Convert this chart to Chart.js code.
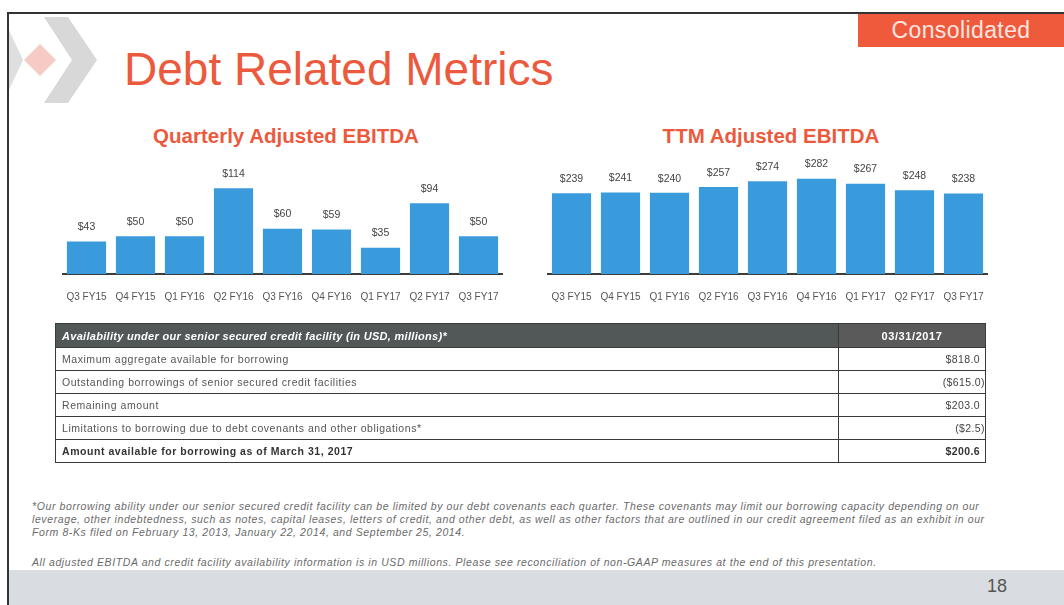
<!DOCTYPE html>
<html>
<head>
<meta charset="utf-8">
<script src="https://cdn.jsdelivr.net/npm/chart.js@4.4.0/dist/chart.umd.min.js"></script>
<style>
  body { margin: 0; width: 1064px; height: 605px; overflow: hidden; background: #fff;
         font-family: "Liberation Sans", Arial, sans-serif; position: relative; }
  .abs { position: absolute; }
  #topline { left: 8px; top: 12px; width: 1056px; height: 2px; background: #333; }
  #leftline { left: 7px; top: 12px; width: 2px; height: 593px; background: #333; }
  #footer { left: 9px; top: 570px; width: 1055px; height: 35px; background: #d9dde2; }
  #pageno { left: 980px; top: 576px; width: 34px; text-align: center; font-size: 18px; color: #555; }
  #badge { left: 858px; top: 14px; width: 206px; height: 33px; background: #ef5a3c; color: #fde6e0;
           font-size: 23px; letter-spacing: 0.4px; line-height: 33px; text-align: center; }
  #title { left: 124px; top: 42px; font-size: 46px; color: #ec5a3d; white-space: nowrap; }
  .ctitle { top: 124px; font-size: 20.5px; font-weight: bold; color: #ec5a3d; text-align: center; white-space: nowrap; }
  table { position: absolute; left: 55px; top: 323px; width: 931px; border-collapse: collapse; }
  td { border: 1.5px solid #3a3a3a; height: 22px; padding: 0 6px; font-size: 10.5px; letter-spacing: 0.55px;
       color: #555; white-space: nowrap; }
  th { border: 1.5px solid #3a3a3a; height: 23px; padding: 0 6px; font-size: 11px; letter-spacing: 0.3px;
       color: #fff; font-weight: bold; background: #525858; white-space: nowrap; }
  th.l { text-align: left; font-style: italic; }
  th.r { text-align: center; background: #5a5a5a; width: 134px; letter-spacing: 0.6px; }
  td.v { text-align: right; padding-right: 5px; color: #444; letter-spacing: 0.4px; }
  td.n { padding-right: 0; }
  tr.total td { font-weight: bold; color: #333; }
  .note { left: 32px; font-size: 10.5px; letter-spacing: 0.6px; font-style: italic; color: #6a6a6a;
          line-height: 13px; white-space: nowrap; }
</style>
</head>
<body>
<svg class="abs" style="left:9px;top:14px" width="100" height="100" viewBox="9 14 100 100">
  <polygon points="-10,24 6,24 23,60 6,96 -10,96 7,60" fill="#dedede"/>
  <polygon points="40,44 56,60 40,76 24,60" fill="#f7cbc5"/>
  <polygon points="44,17 68,17 97,60 68,103 44,103 72,60" fill="#d8d8d8"/>
</svg>
<div class="abs" id="topline"></div>
<div class="abs" id="leftline"></div>
<div class="abs" id="badge">Consolidated</div>
<div class="abs" id="title">Debt Related Metrics</div>

<div class="abs ctitle" style="left:136px;width:300px">Quarterly Adjusted EBITDA</div>
<div class="abs ctitle" style="left:621px;width:300px">TTM Adjusted EBITDA</div>

<canvas id="qChart" class="abs" style="left:62px;top:155px" width="441" height="174"></canvas>
<canvas id="tChart" class="abs" style="left:547px;top:155px" width="441" height="174"></canvas>

<table>
  <tr><th class="l">Availability under our senior secured credit facility (in USD, millions)*</th><th class="r">03/31/2017</th></tr>
  <tr><td>Maximum aggregate  available  for  borrowing</td><td class="v">$818.0</td></tr>
  <tr><td>Outstanding  borrowings  of  senior  secured  credit  facilities</td><td class="v n">($615.0)</td></tr>
  <tr><td>Remaining  amount</td><td class="v">$203.0</td></tr>
  <tr><td>Limitations to borrowing  due to debt  covenants  and  other  obligations*</td><td class="v n">($2.5)</td></tr>
  <tr class="total"><td>Amount available for borrowing as of March 31, 2017</td><td class="v">$200.6</td></tr>
</table>

<div class="abs note" style="top:500px">*Our borrowing  ability under our senior secured credit facility can be limited by our debt covenants each quarter. These covenants may limit our borrowing  capacity depending  on our</div>
<div class="abs note" style="top:513px">leverage,  other indebtedness,  such as notes, capital leases, letters of credit, and other debt, as well as other factors that are outlined  in our credit agreement  filed as an exhibit in our</div>
<div class="abs note" style="top:526px">Form 8-Ks filed on February 13, 2013, January 22, 2014, and September 25, 2014.</div>
<div class="abs note" style="top:556px">All adjusted EBITDA and credit facility availability information is in USD millions. Please see reconciliation of non-GAAP measures at the end of this presentation.</div>

<div class="abs" id="footer"></div>
<div class="abs" id="pageno">18</div>

<script>
const quarters = ['Q3 FY15', 'Q4 FY15', 'Q1 FY16', 'Q2 FY16', 'Q3 FY16', 'Q4 FY16', 'Q1 FY17', 'Q2 FY17', 'Q3 FY17'];
const quarterlyEbitda = [43, 50, 50, 114, 60, 59, 35, 94, 50];
const ttmEbitda = [239, 241, 240, 257, 274, 282, 267, 248, 238];

// writes "$value" above each bar
const barLabels = {
    id: 'barLabels',
    afterDatasetsDraw(chart) {
        const ctx = chart.ctx;
        ctx.save();
        ctx.font = '10.5px "Liberation Sans", Arial, sans-serif';
        ctx.fillStyle = '#444';
        ctx.textAlign = 'center';
        ctx.textBaseline = 'bottom';
        chart.data.datasets.forEach(function (dataset, i) {
            chart.getDatasetMeta(i).data.forEach(function (bar, index) {
                ctx.fillText('$' + dataset.data[index], bar.x, bar.y - 9);
            });
        });
        ctx.restore();
    }
};

function makeChart(id, values, maxY) {
    new Chart(document.getElementById(id), {
        type: 'bar',
        data: {
            labels: quarters,
            datasets: [{
                data: values,
                backgroundColor: '#3a9bdc',
                barPercentage: 0.8,
                categoryPercentage: 1
            }]
        },
        options: {
            responsive: false,
            animation: false,
            layout: { padding: { top: 0, bottom: 9, left: 0, right: 0 } },
            plugins: { legend: { display: false }, tooltip: { enabled: false } },
            scales: {
                x: {
                    grid: { display: false, drawTicks: false },
                    border: { color: '#3c3c3c', width: 2 },
                    ticks: { color: '#555', padding: 17, maxRotation: 0,
                             font: { size: 10, family: '"Liberation Sans", Arial, sans-serif' } },
                    // tick padding should not shrink the plot sideways
                    afterFit: function (scale) {
                        scale.paddingLeft = 0;
                        scale.paddingRight = 0;
                    }
                },
                y: { display: false, min: 0, max: maxY }
            }
        },
        plugins: [barLabels]
    });
}

makeChart('qChart', quarterlyEbitda, 158);
makeChart('tChart', ttmEbitda, 352);
</script>
</body>
</html>
